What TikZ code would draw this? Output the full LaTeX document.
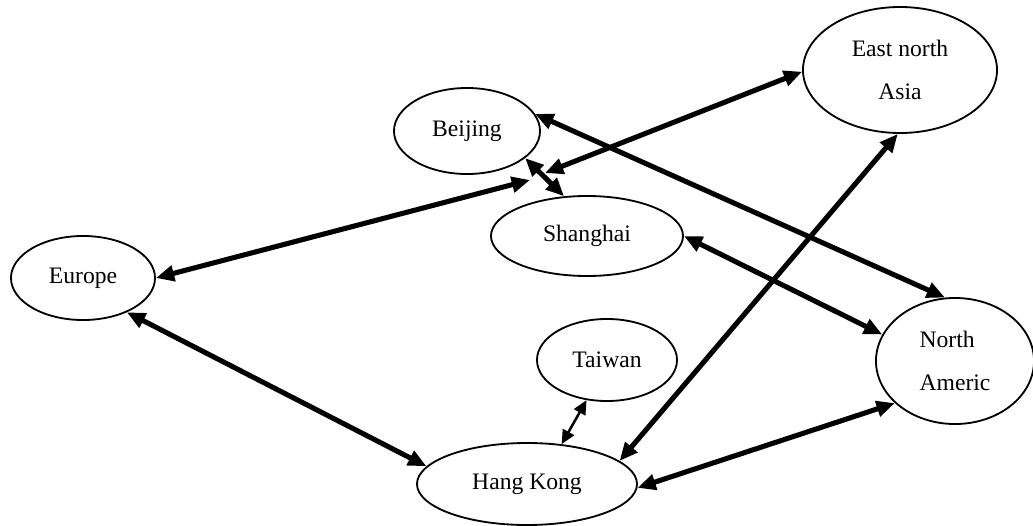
\documentclass[tikz,border=0pt]{standalone}
\usepackage{fontspec}
\setmainfont{Liberation Serif}
\usetikzlibrary{arrows.meta,shapes.geometric}
\tikzset{
  place/.style={draw, ellipse, line width=1.3pt, inner sep=0pt,
    font=\fontsize{16.8}{30}\selectfont},
  route/.style={line width=3.6pt,
    {Triangle[length=13pt,width=11pt]}-{Triangle[length=13pt,width=11pt]}},
  thinroute/.style={line width=1.8pt,
    {Triangle[length=10pt,width=9pt]}-{Triangle[length=10pt,width=9pt]}},
}
\begin{document}
\begin{tikzpicture}[x=0.025cm,y=-0.025cm]
  \useasboundingbox (0,0) rectangle (1033,526);%

  % Marking the places
  \node [place, minimum width=3.6cm, minimum height=2.1cm] (eur) at (83,278) {Europe};%
  \node [place, minimum width=3.65cm, minimum height=2.15cm] (bj) at (467,131) {Beijing};%
  \node [place, minimum width=4.8cm, minimum height=2cm] (sh) at (587,236) {Shanghai};%
  \node [place, minimum width=4.85cm, minimum height=3.15cm, align=center] (ena) at (900,70) {East north\\Asia};%
  \node [place, minimum width=3.95cm, minimum height=3.15cm, align=left] (na) at (955,361) {North\\Americ};%
  \node [place, minimum width=3.5cm, minimum height=2.05cm] (tw) at (607,360) {Taiwan};%
  \node [place, minimum width=5.5cm, minimum height=2.05cm] (hk) at (527,484) {Hang Kong};%

  % Meeting points near Beijing and Shanghai
  \coordinate (hubw) at (530,180);%
  \coordinate (hube) at (545,173);%

  % Drawing routes to the meeting points
  \draw [route] (eur.east) -- (hubw);%
  \draw [route] (ena.181) -- (hube);%

  % Drawing route Beijing Shanghai
  \draw [route] (bj.-25) -- (sh.120);%

  % Drawing routes to North Americ
  \draw [route] (bj.14) -- (na.99);%
  \draw [route] (sh.east) -- (na.160);%
  \draw [route] (hk.-2) -- (na.215);%

  % Drawing routes to Hang Kong
  \draw [route] (ena.268) -- (hk.14);%
  \draw [route] (eur.-38) -- (hk.170);%
  \draw [thinroute] (tw.-117) -- (hk.49);%
\end{tikzpicture}
\end{document}
